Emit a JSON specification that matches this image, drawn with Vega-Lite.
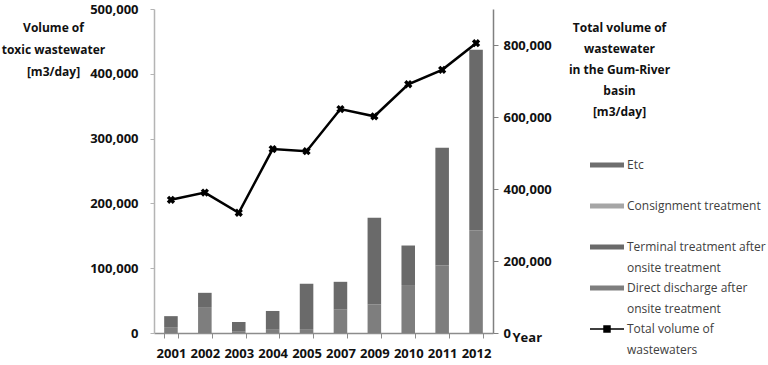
{
  "$schema": "https://vega.github.io/schema/vega-lite/v6.json",
  "width": 339,
  "height": 324,
  "autosize": {"type": "none"},
  "padding": {"left": 154, "top": 9, "right": 275, "bottom": 32},
  "background": "white",
  "config": {
    "view": {"stroke": null},
    "font": "Open Sans",
    "axis": {
      "labelFont": "Open Sans", "labelFontWeight": "bold", "labelFontSize": 13, "labelColor": "#111111",
      "titleFont": "Open Sans", "titleFontWeight": "bold", "titleFontSize": 12, "titleColor": "#111111",
      "grid": false, "domainColor": "#8c8c8c", "tickColor": "#8c8c8c", "domainWidth": 1.5
    }
  },
  "datasets": {
    "parts": [
      {"year": "2001", "type": "Direct discharge after onsite treatment", "volume": 9000},
      {"year": "2001", "type": "Terminal treatment after onsite treatment", "volume": 17000},
      {"year": "2002", "type": "Direct discharge after onsite treatment", "volume": 40000},
      {"year": "2002", "type": "Terminal treatment after onsite treatment", "volume": 22000},
      {"year": "2003", "type": "Direct discharge after onsite treatment", "volume": 2000},
      {"year": "2003", "type": "Terminal treatment after onsite treatment", "volume": 15000},
      {"year": "2004", "type": "Direct discharge after onsite treatment", "volume": 5000},
      {"year": "2004", "type": "Terminal treatment after onsite treatment", "volume": 29000},
      {"year": "2005", "type": "Direct discharge after onsite treatment", "volume": 6000},
      {"year": "2005", "type": "Terminal treatment after onsite treatment", "volume": 70000},
      {"year": "2007", "type": "Direct discharge after onsite treatment", "volume": 36000},
      {"year": "2007", "type": "Terminal treatment after onsite treatment", "volume": 43000},
      {"year": "2009", "type": "Direct discharge after onsite treatment", "volume": 44000},
      {"year": "2009", "type": "Terminal treatment after onsite treatment", "volume": 134000},
      {"year": "2010", "type": "Direct discharge after onsite treatment", "volume": 74000},
      {"year": "2010", "type": "Terminal treatment after onsite treatment", "volume": 61000},
      {"year": "2011", "type": "Direct discharge after onsite treatment", "volume": 104000},
      {"year": "2011", "type": "Terminal treatment after onsite treatment", "volume": 182000},
      {"year": "2012", "type": "Direct discharge after onsite treatment", "volume": 158000},
      {"year": "2012", "type": "Terminal treatment after onsite treatment", "volume": 279000},
      {"year": "2012", "type": "Consignment treatment", "volume": 0},
      {"year": "2012", "type": "Etc", "volume": 0}
    ],
    "total": [
      {"year": "2001", "total": 370000},
      {"year": "2002", "total": 390000},
      {"year": "2003", "total": 334000},
      {"year": "2004", "total": 511000},
      {"year": "2005", "total": 505000},
      {"year": "2007", "total": 622000},
      {"year": "2009", "total": 602000},
      {"year": "2010", "total": 691000},
      {"year": "2011", "total": 731000},
      {"year": "2012", "total": 805000}
    ]
  },
  "layer": [
    {
      "data": {"name": "parts"},
      "mark": {"type": "bar"},
      "encoding": {
        "x": {
          "field": "year", "type": "ordinal",
          "scale": {"paddingInner": 0.6, "paddingOuter": 0.3},
          "axis": {
            "labelAngle": 0, "tickBand": "extent", "tickSize": 5, "labelPadding": 9,
            "title": "Year", "titleX": 358, "titleY": 4, "titleAlign": "left", "titleBaseline": "middle", "titleFontSize": 13
          }
        },
        "y": {
          "field": "volume", "type": "quantitative", "stack": "zero",
          "scale": {"domain": [0, 500000]},
          "axis": {
            "values": [0, 100000, 200000, 300000, 400000, 500000], "format": ",.0f",
            "tickSize": 4, "labelPadding": 12, "domainColor": "#b4b4b4", "tickColor": "#b4b4b4",
            "title": ["Volume of", "toxic wastewater", "[m3/day]"],
            "titleAngle": 0, "titleAlign": "center", "titleBaseline": "top",
            "titleX": -101, "titleY": 13, "titleLineHeight": 22
          }
        },
        "order": {"field": "type", "sort": "ascending"},
        "color": {
          "field": "type", "type": "nominal",
          "scale": {
            "domain": ["Etc", "Consignment treatment", "Terminal treatment after onsite treatment", "Direct discharge after onsite treatment", "Total volume of wastewaters"],
            "range": ["#6e6e6e", "#a6a6a6", "#6a6a6a", "#7e7e7e", "#000000"]
          },
          "legend": {
            "orient": "none", "legendX": 436, "legendY": 148, "title": null, "padding": 0,
            "symbolType": "M-1,-0.15L1,-0.15L1,0.15L-1,0.15Z", "symbolSize": 1156, "symbolStrokeWidth": 0,
            "labelFont": "Open Sans", "labelFontSize": 12, "labelColor": "#404040",
            "labelOffset": 3, "rowPadding": 0, "clipHeight": 40.5,
            "labelExpr": "datum.label == 'Terminal treatment after onsite treatment' ? ['Terminal treatment after', 'onsite treatment'] : datum.label == 'Direct discharge after onsite treatment' ? ['Direct discharge after', 'onsite treatment'] : datum.label == 'Total volume of wastewaters' ? ['Total volume of', 'wastewaters'] : [datum.label, '']",
            "encode": {
              "symbols": {
                "update": {
                  "shape": {"signal": "datum.value == 'Total volume of wastewaters' ? 'M-1,-0.045L1,-0.045L1,0.045L-1,0.045Z M-0.22,-0.22L0.22,-0.22L0.22,0.22L-0.22,0.22Z' : 'M-1,-0.15L1,-0.15L1,0.15L-1,0.15Z'"},
                  "fill": {"scale": "color", "field": "value"},
                  "fillOpacity": {"value": 1},
                  "stroke": {"value": "transparent"},
                  "strokeWidth": {"value": 0},
                  "y": {"value": 8}
                }
              },
              "labels": {
                "update": {
                  "lineHeight": {"value": 21},
                  "y": {"value": 8},
                  "baseline": {"value": "middle"}
                }
              }
            }
          }
        }
      }
    },
    {
      "data": {"name": "total"},
      "encoding": {
        "x": {"field": "year", "type": "ordinal"},
        "y": {
          "field": "total", "type": "quantitative",
          "scale": {"domain": [0, 900000]},
          "axis": {
            "orient": "right",
            "values": [0, 200000, 400000, 600000, 800000], "format": ",.0f",
            "tickSize": 5, "labelPadding": 5, "domainColor": "#808080", "tickColor": "#808080",
            "title": ["Total volume of", "wastewater", "in the Gum-River", "basin", "[m3/day]"],
            "titleAngle": 0, "titleAlign": "center", "titleBaseline": "top",
            "titleX": 126, "titleY": 13, "titleLineHeight": 21
          }
        }
      },
      "layer": [
        {
          "mark": {"type": "line", "strokeWidth": 2.5},
          "encoding": {"color": {"datum": "Total volume of wastewaters", "type": "nominal"}}
        },
        {
          "mark": {"type": "point", "shape": "cross", "angle": 45, "size": 70, "filled": true, "color": "#000000", "opacity": 1}
        }
      ]
    }
  ],
  "resolve": {"scale": {"y": "independent"}}
}
